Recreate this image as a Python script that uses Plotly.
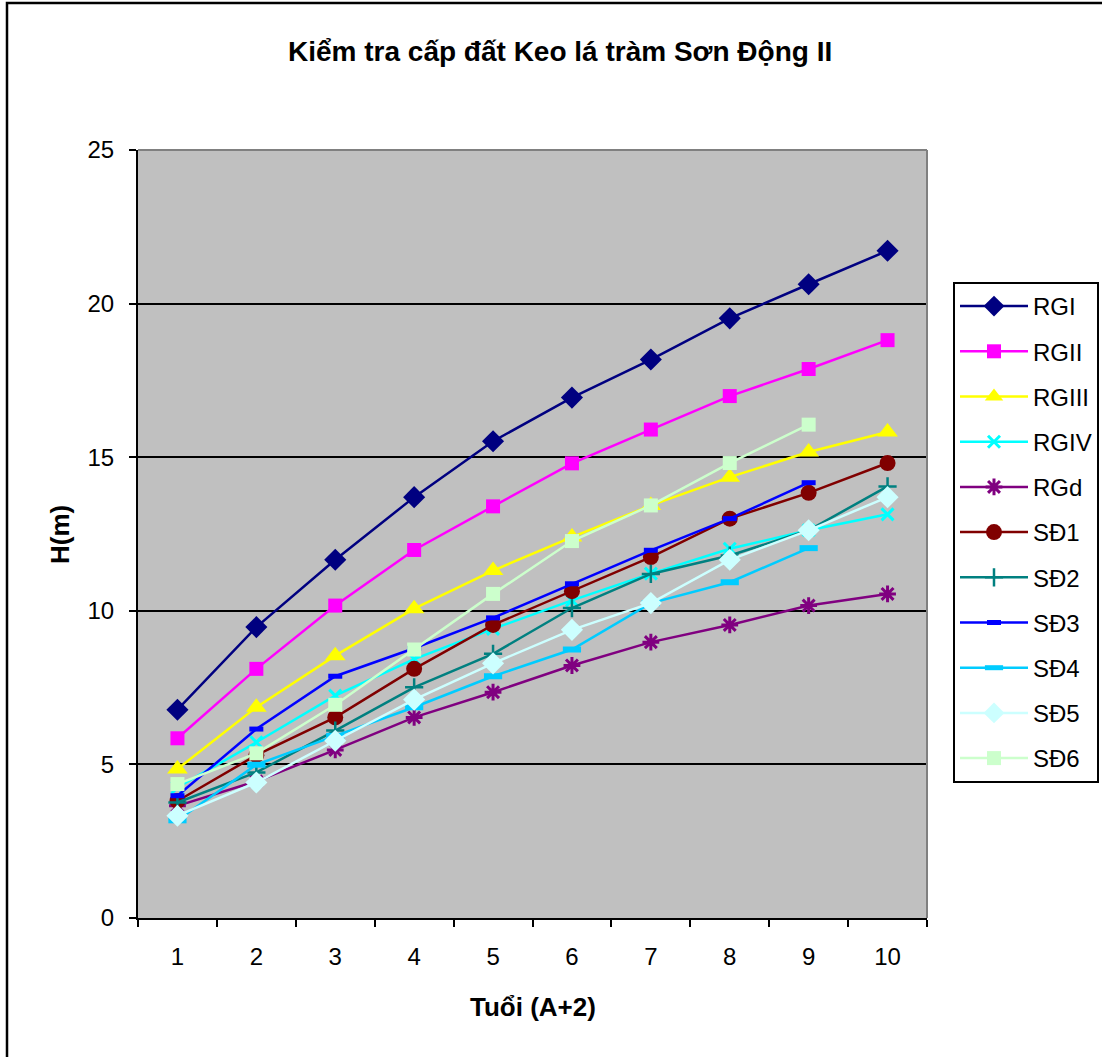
import plotly.graph_objects as go

# Age classes on the x axis
ages = ["1", "2", "3", "4", "5", "6", "7", "8", "9", "10"]

# Height curves (m) by site class
rg_i = [6.78, 9.47, 11.66, 13.70, 15.52, 16.94, 18.18, 19.52, 20.63, 21.72]
rg_ii = [5.85, 8.11, 10.17, 11.98, 13.40, 14.80, 15.90, 16.99, 17.87, 18.81]
rg_iii = [4.85, 6.86, 8.54, 10.07, 11.31, 12.40, 13.43, 14.35, 15.17, 15.82]
rg_iv = [4.25, 5.72, 7.24, 8.43, 9.41, 10.34, 11.21, 12.02, 12.62, 13.14]
rg_d = [3.65, 4.45, 5.47, 6.53, 7.35, 8.22, 8.98, 9.54, 10.17, 10.55]

# Measured plots in Sơn Động
sd1 = [3.81, 5.30, 6.53, 8.11, 9.54, 10.64, 11.75, 13.00, 13.84, 14.81]
sd2 = [3.76, 4.74, 6.10, 7.51, 8.60, 10.09, 11.20, 11.80, 12.62, 14.05]
sd3 = [3.98, 6.15, 7.87, 8.78, 9.77, 10.88, 11.97, 13.00, 14.17, None]
sd4 = [3.18, 4.99, 5.93, 6.86, 7.87, 8.74, 10.25, 10.93, 12.04, None]
sd5 = [3.33, 4.41, 5.77, 7.11, 8.29, 9.38, 10.25, 11.66, 12.62, 13.70]
sd6 = [4.36, 5.36, 6.94, 8.74, 10.55, 12.27, 13.43, 14.81, 16.06, None]

series_names = ["RGI", "RGII", "RGIII", "RGIV", "RGd",
                "SĐ1", "SĐ2", "SĐ3", "SĐ4", "SĐ5", "SĐ6"]
series_values = [rg_i, rg_ii, rg_iii, rg_iv, rg_d,
                 sd1, sd2, sd3, sd4, sd5, sd6]

# (line colour, marker symbol, marker size, marker line width)
styles = [
    ("#000080", "diamond", 17, 0),
    ("#FF00FF", "square", 14, 0),
    ("#FFFF00", "triangle-up", 18, 0),
    ("#00FFFF", "x-thin-open", 12, 3),
    ("#800080", "asterisk-open", 14, 3),
    ("#800000", "circle", 16, 0),
    ("#008080", "cross-thin-open", 13, 2.5),
    ("#0000FF", "line-ew-open", 10, 5),
    ("#00CCFF", "line-ew-open", 13, 6),
    ("#CCFFFF", "diamond", 17, 0),
    ("#CCFFCC", "square", 14, 0),
]

FONT = "Liberation Sans, Arial, sans-serif"

fig = go.Figure()
for name, vals, (col, sym, size, lw) in zip(series_names, series_values, styles):
    marker = dict(symbol=sym, size=size, color=col)
    if lw:
        marker["line"] = dict(color=col, width=lw)
    else:
        marker["line"] = dict(width=0)
    fig.add_trace(go.Scatter(
        x=ages, y=vals, name=name, mode="lines+markers",
        line=dict(color=col, width=2.5), marker=marker,
        legendgroup=name, connectgaps=False,
    ))

L, R, T, B = 138, 175, 150, 139
W, H = 1102, 1057
pw, ph = W - L - R, H - T - B

def px_x(px):
    return (px - L) / pw

def px_y(py):
    return (H - B - py) / ph

fig.update_layout(
    width=W, height=H,
    margin=dict(l=L, r=R, t=T, b=B, pad=0, autoexpand=False),
    paper_bgcolor="white",
    plot_bgcolor="#C0C0C0",
    font=dict(family=FONT, size=24, color="black"),
    showlegend=True,
    legend=dict(
        x=px_x(953), y=px_y(282), xanchor="left", yanchor="top",
        bgcolor="white", bordercolor="black", borderwidth=2,
        font=dict(family=FONT, size=24, color="black"),
        traceorder="grouped", tracegroupgap=11, itemwidth=68,
    ),
    xaxis=dict(
        type="category", range=[-0.5, 9.5],
        showline=True, linecolor="black", linewidth=2,
        ticks="outside", ticklen=7, tickwidth=2, tickcolor="black",
        tickson="boundaries", showgrid=False, zeroline=False,
        tickfont=dict(family=FONT, size=24), ticklabelstandoff=16,
    ),
    yaxis=dict(
        range=[0, 25], dtick=5, tick0=0,
        showline=True, linecolor="black", linewidth=2,
        ticks="outside", ticklen=7, tickwidth=2, tickcolor="black",
        showgrid=True, gridcolor="black", gridwidth=2, zeroline=False,
        tickfont=dict(family=FONT, size=24), ticklabelstandoff=10,
    ),
    annotations=[
        dict(text="<b>Kiểm tra cấp đất Keo lá tràm Sơn Động II</b>",
             xref="paper", yref="paper", x=px_x(560), y=px_y(52),
             xanchor="center", yanchor="middle", showarrow=False,
             font=dict(family=FONT, size=28)),
        dict(text="<b>Tuổi (A+2)</b>",
             xref="paper", yref="paper", x=px_x(533), y=px_y(1007),
             xanchor="center", yanchor="middle", showarrow=False,
             font=dict(family=FONT, size=26)),
        dict(text="<b>H(m)</b>", textangle=-90,
             xref="paper", yref="paper", x=px_x(60), y=px_y(535),
             xanchor="center", yanchor="middle", showarrow=False,
             font=dict(family=FONT, size=26)),
    ],
    shapes=[
        # gray frame on the top and right of the plot area
        dict(type="line", xref="paper", yref="paper", x0=0, x1=1, y0=1, y1=1,
             line=dict(color="#808080", width=2), layer="above"),
        dict(type="line", xref="paper", yref="paper", x0=1, x1=1, y0=0, y1=1,
             line=dict(color="#808080", width=2), layer="above"),
        # outer chart border
        dict(type="rect", xref="paper", yref="paper",
             x0=px_x(7), x1=px_x(1110), y0=px_y(1062), y1=px_y(3),
             line=dict(color="black", width=2.5), fillcolor="rgba(0,0,0,0)",
             layer="below"),
    ],
)

fig.write_html("out.html")
